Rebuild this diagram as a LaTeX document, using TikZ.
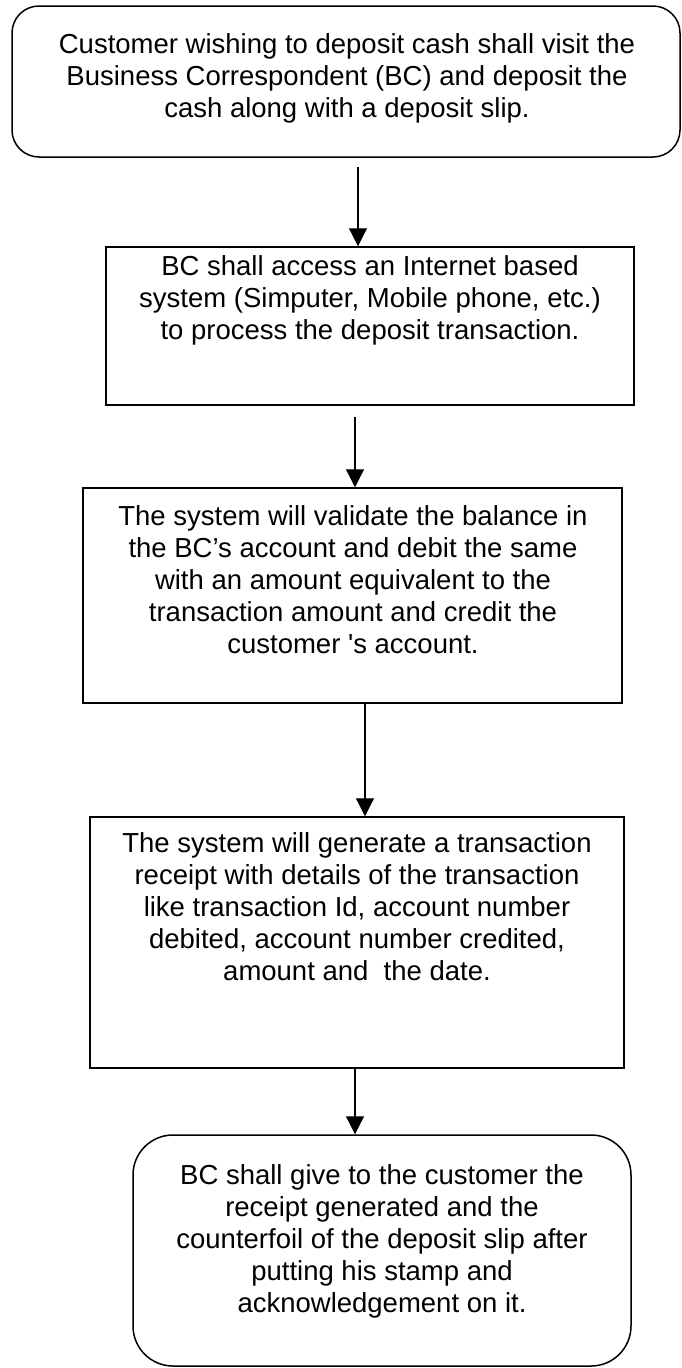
\documentclass[tikz,border=0pt]{standalone}
\usepackage{fontspec}
\setmainfont{Liberation Sans}
\usetikzlibrary{arrows.meta}

\begin{document}
\begin{tikzpicture}[x=1pt,y=-1pt,inner sep=0pt,minimum size=0mm,
  box/.style={draw,line width=1.5pt,rectangle},
  rbox/.style={box,rounded corners=27pt},
  txt/.style={align=center,font=\fontsize{27.5}{32}\selectfont},
  arr/.style={line width=1.2pt,-{Triangle[length=18pt,width=18pt]}}]

\useasboundingbox (0,0) rectangle (681,1368);

\node[rbox,minimum width=668pt,minimum height=151pt] (b1) at (346,81.5) {};
\node[txt] (t1) at (347,78) {Customer wishing to deposit cash shall visit the\\
Business Correspondent (BC) and deposit the\\
cash along with a deposit slip.};

\node[box,minimum width=528pt,minimum height=158pt] (b2) at (370,326) {};
\node[txt] (t2) at (370,300) {BC shall access an Internet based\\
system (Simputer, Mobile phone, etc.)\\
to process the deposit transaction.};

\node[box,minimum width=539pt,minimum height=215pt] (b3) at (352.5,595.5) {};
\node[txt] (t3) at (353,579.5) {The system will validate the balance in\\
the BC’s account and debit the same\\
with an amount equivalent to the\\
transaction amount and credit the\\
customer \textquotesingle s account.};

\node[box,minimum width=534pt,minimum height=251pt] (b4) at (357,942.5) {};
\node[txt] (t4) at (357,906.5) {The system will generate a transaction\\
receipt with details of the transaction\\
like transaction Id, account number\\
debited, account number credited,\\
amount and\ \ the date.};

\node[box,rounded corners=40pt,minimum width=498pt,minimum height=231pt] (b5) at (382,1250.5) {};
\node[txt] (t5) at (382,1241.5) {BC shall give to the customer the\\
receipt generated and the\\
counterfoil of the deposit slip after\\
putting his stamp and\\
acknowledgement on it.};

\coordinate (a1) at (358,167);
\coordinate (a2) at (355,417);
\coordinate (a3) at (365,703);
\coordinate (a4) at (355,1068);

\draw[arr] (a1) -- (a1 |- b2.north);
\draw[arr] (a2) -- (a2 |- b3.north);
\draw[arr] (a3) -- (a3 |- b4.north);
\draw[arr] (a4) -- (a4 |- b5.north);

\end{tikzpicture}
\end{document}
